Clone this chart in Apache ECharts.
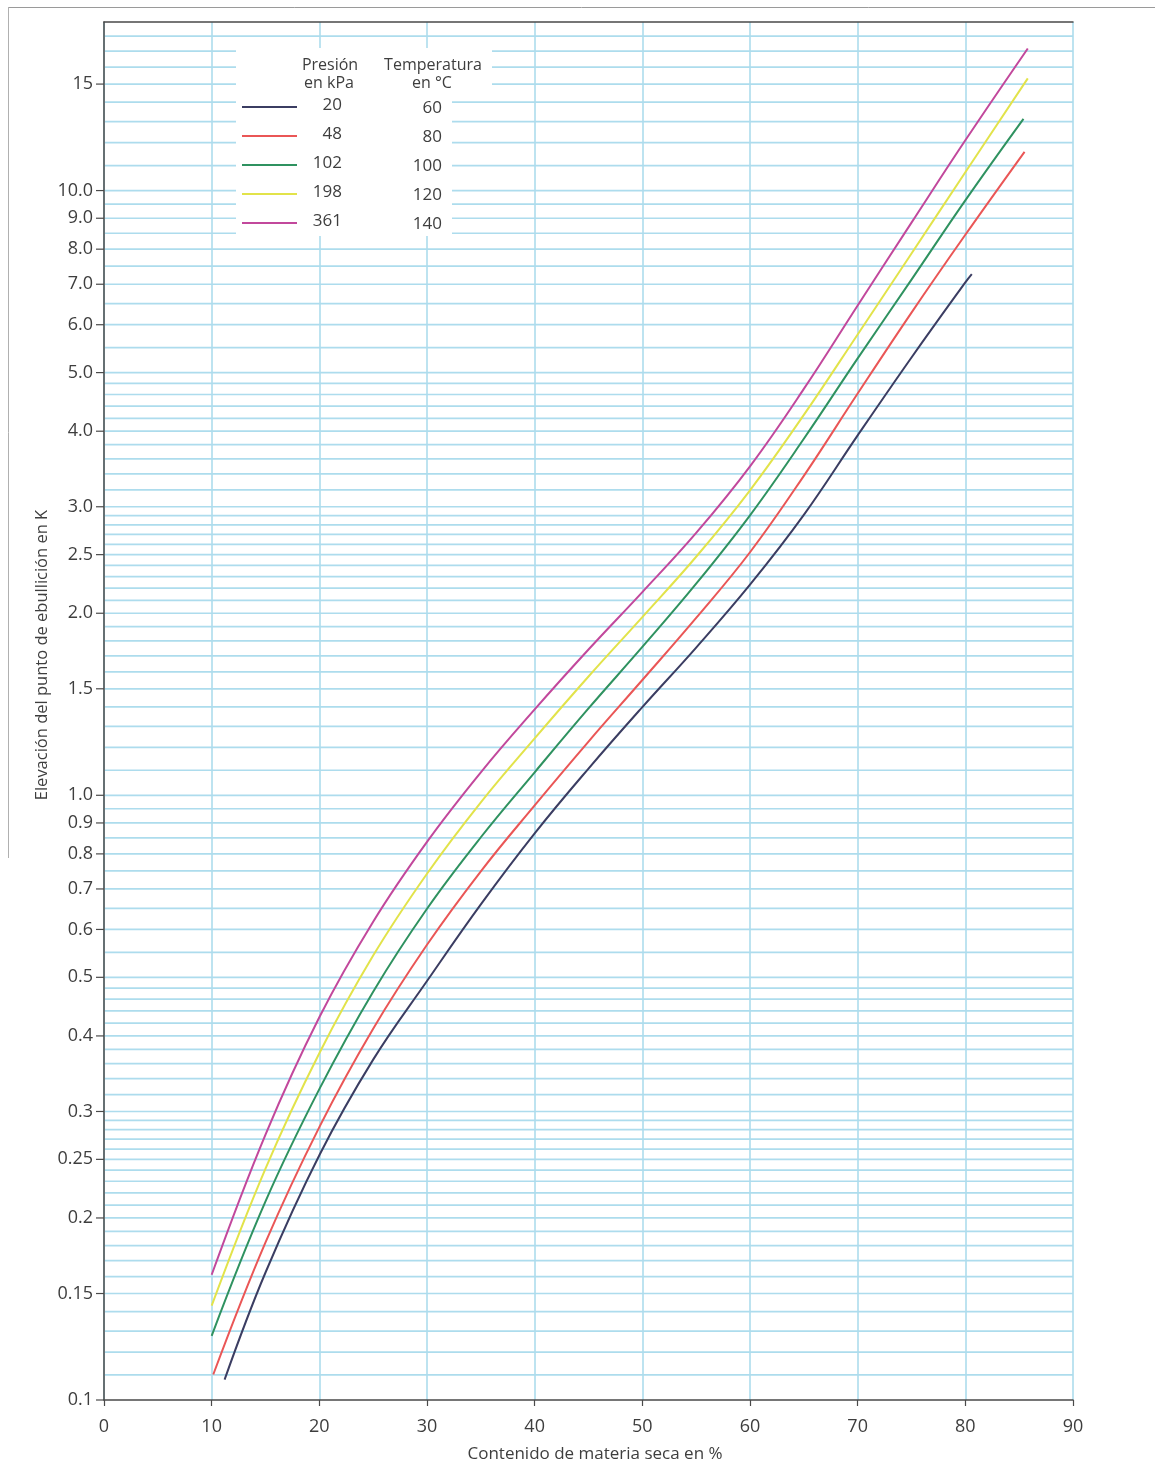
<!DOCTYPE html>
<html><head><meta charset="utf-8">
<script src="https://cdn.jsdelivr.net/npm/echarts@6/dist/echarts.min.js"></script>
<style>html,body{margin:0;padding:0;background:#fff}#c{width:1155px;height:1472px}</style>
</head><body><div id="c"></div><script>
// ---- data ----
const pressures = ['20', '48', '102', '198', '361'];
const temperatures = ['60', '80', '100', '120', '140'];
const seriesColors = ['#3b3d62', '#ea5656', '#2f9260', '#e2e34a', '#c2489c'];

const x20  = [11.2, 15, 20, 25, 30, 35, 40, 45, 50, 55, 60, 65, 70, 75, 80, 80.6];
const y20  = [0.1081, 0.1625, 0.254, 0.3655, 0.493, 0.660, 0.865, 1.107, 1.399, 1.755, 2.230, 2.909, 3.937, 5.297, 7.052, 7.278];
const x48  = [10.15, 15, 20, 25, 30, 35, 40, 45, 50, 55, 60, 65, 70, 75, 80, 85.5];
const y48  = [0.1102, 0.1822, 0.2827, 0.4111, 0.5659, 0.7487, 0.9623, 1.227, 1.551, 1.965, 2.523, 3.375, 4.617, 6.283, 8.45, 11.59];
const x102 = [10, 15, 20, 25, 30, 35, 40, 45, 50, 55, 60, 65, 70, 75, 80, 85.4];
const y102 = [0.1277, 0.2130, 0.3266, 0.4734, 0.6493, 0.8523, 1.0915, 1.392, 1.759, 2.238, 2.904, 3.886, 5.278, 7.124, 9.634, 13.14];
const x198 = [10, 15, 20, 25, 30, 35, 40, 45, 50, 55, 60, 65, 70, 75, 80, 85.8];
const y198 = [0.1432, 0.2414, 0.3745, 0.5431, 0.7418, 0.9737, 1.242, 1.572, 1.971, 2.480, 3.194, 4.256, 5.782, 7.869, 10.72, 15.33];
const x361 = [10, 15, 20, 25, 30, 35, 40, 45, 50, 55, 60, 65, 70, 75, 80, 85.8];
const y361 = [0.1611, 0.2748, 0.4295, 0.6180, 0.8375, 1.0914, 1.3868, 1.742, 2.168, 2.716, 3.500, 4.699, 6.457, 8.851, 12.11, 17.18];

const yTickValues = [0.1, 0.15, 0.2, 0.25, 0.3, 0.4, 0.5, 0.6, 0.7, 0.8, 0.9, 1, 1.5, 2, 2.5, 3, 4, 5, 6, 7, 8, 9, 10, 15];
const yTickLabels = ['0.1', '0.15', '0.2', '0.25', '0.3', '0.4', '0.5', '0.6', '0.7', '0.8', '0.9', '1.0', '1.5', '2.0', '2.5', '3.0', '4.0', '5.0', '6.0', '7.0', '8.0', '9.0', '10.0', '15'];
// horizontal ruling of the log paper: [from, to, step]
const gridBands = [[0.1, 0.3, 0.01], [0.3, 0.5, 0.02], [0.5, 1, 0.05], [1, 3, 0.1], [3, 5, 0.2], [5, 10, 0.5], [10, 19, 1]];

// ---- build ----
const gridValues = [];
gridBands.forEach(([a, b, s]) => {
  const n = Math.round((b - a) / s);
  for (let k = 0; k < n; k++) {
    const v = +(a + k * s).toFixed(4);
    if (v > 0.1 + 1e-9) gridValues.push(v);
  }
});

const FONT = '"Open Sans", "Noto Sans", sans-serif';
const TXT = '#3e3e3e';
const GRID = '#addced';
const AXIS = '#4a4a4a';

const xs = [x20, x48, x102, x198, x361];
const ys = [y20, y48, y102, y198, y361];

const lineSeries = pressures.map((p, i) => ({
  name: p + ' kPa',
  type: 'line',
  smooth: 0.4,
  symbol: 'none',
  z: 5,
  lineStyle: { color: seriesColors[i], width: 2 },
  data: xs[i].map((x, j) => [x, ys[i][j]])
}));

const chart = echarts.init(document.getElementById('c'), null, { renderer: 'canvas' });

// legend graphics
const lg = [];
lg.push({ type: 'rect', shape: { x: 236, y: 48, width: 216, height: 188 }, style: { fill: '#fff' }, z: 10 });
lg.push({ type: 'rect', shape: { x: 372, y: 50, width: 120, height: 44 }, style: { fill: '#fff' }, z: 10 });
const hdr = [['Presión', 330, 65], ['en kPa', 329, 83], ['Temperatura', 433, 65], ['en °C', 432, 83]];
hdr.forEach(([t, x, y]) => lg.push({ type: 'text', x: x, y: y, z: 11,
  style: { text: t, align: 'center', verticalAlign: 'middle', textAlign: 'center', textVerticalAlign: 'middle', fontSize: 16, fontFamily: FONT, fill: TXT } }));
pressures.forEach((p, i) => {
  const yy = 107 + i * 29;
  lg.push({ type: 'line', z: 11, shape: { x1: 242, y1: yy, x2: 297, y2: yy }, style: { stroke: seriesColors[i], lineWidth: 2 } });
  lg.push({ type: 'text', x: 342, y: yy - 2, z: 11,
    style: { text: p, align: 'right', verticalAlign: 'middle', textAlign: 'right', textVerticalAlign: 'middle', fontSize: 17, fontFamily: FONT, fill: TXT } });
  lg.push({ type: 'text', x: 442, y: yy + 1, z: 11,
    style: { text: temperatures[i], align: 'right', verticalAlign: 'middle', textAlign: 'right', textVerticalAlign: 'middle', fontSize: 17, fontFamily: FONT, fill: TXT } });
});
// faint scan edges of the page
lg.push({ type: 'line', z: 1, shape: { x1: 8, y1: 7.5, x2: 1155, y2: 7.5 }, style: { stroke: '#9a9a9a', lineWidth: 1 } });
lg.push({ type: 'line', z: 1, shape: { x1: 8.5, y1: 7, x2: 8.5, y2: 858 }, style: { stroke: '#b0b0b0', lineWidth: 1 } });

const option = {
  backgroundColor: '#fff',
  animation: false,
  grid: { left: 104, right: 82, top: 22, bottom: 72, containLabel: false },
  xAxis: [{
    type: 'value', min: 0, max: 90, interval: 10, position: 'bottom',
    axisLine: { show: true, lineStyle: { color: AXIS, width: 1.5 } },
    axisTick: { show: true, length: 6, lineStyle: { color: AXIS, width: 1.2 } },
    axisLabel: { fontSize: 18, color: TXT, margin: 18, fontFamily: FONT },
    splitLine: { show: true, lineStyle: { color: GRID, width: 1.6 } },
    name: 'Contenido de materia seca en %', nameLocation: 'middle', nameGap: 46,
    nameTextStyle: { fontSize: 17, color: TXT, fontFamily: FONT, padding: [0, 0, 0, 13] }
  }, {
    type: 'value', min: 0, max: 90, position: 'top',
    axisLine: { show: true, lineStyle: { color: AXIS, width: 1.5 } },
    axisTick: { show: false }, axisLabel: { show: false }, splitLine: { show: false }
  }],
  yAxis: {
    type: 'log', logBase: 10, min: 0.1, max: 19,
    axisLine: { show: true, lineStyle: { color: AXIS, width: 1.5 } },
    axisTick: { show: false }, axisLabel: { show: false }, splitLine: { show: false },
    name: 'Elevación del punto de ebullición en K', nameLocation: 'middle', nameGap: 53,
    nameTextStyle: { fontSize: 16.5, color: TXT, fontFamily: FONT, padding: [0, 0, 0, 112] }
  },
  graphic: { elements: lg },
  series: [
    {
      type: 'custom', silent: true, z: 1, xAxisIndex: 0, yAxisIndex: 0,
      data: gridValues.map(v => [0, v]),
      renderItem: function (params, api) {
        const v = api.value(1);
        const a = api.coord([0, v]);
        const b = api.coord([90, v]);
        return { type: 'line', shape: { x1: a[0] + 1, y1: a[1], x2: b[0], y2: b[1] }, style: { stroke: GRID, lineWidth: 1.7 } };
      }
    },
    {
      type: 'custom', silent: true, z: 6, xAxisIndex: 0, yAxisIndex: 0, clip: false,
      data: yTickValues.map(v => [0, v]),
      renderItem: function (params, api) {
        const i = params.dataIndex;
        const p = api.coord([0, yTickValues[i]]);
        return { type: 'group', children: [
          { type: 'line', shape: { x1: p[0] - 8, y1: p[1], x2: p[0], y2: p[1] }, style: { stroke: AXIS, lineWidth: 1.2 } },
          { type: 'text', x: p[0] - 11, y: p[1], style: { text: yTickLabels[i], align: 'right', verticalAlign: 'middle', textAlign: 'right', textVerticalAlign: 'middle', fontSize: 18, fontFamily: FONT, fill: TXT } }
        ] };
      }
    }
  ].concat(lineSeries)
};
chart.setOption(option);
</script></body></html>
